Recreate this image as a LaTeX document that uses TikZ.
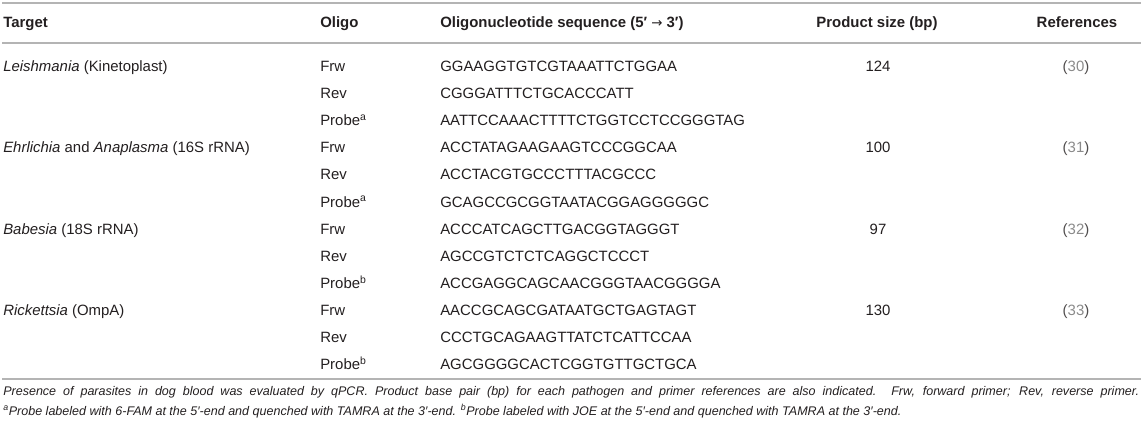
\documentclass[tikz,border=0pt]{standalone}
\usepackage{fontspec}
\setmainfont{Liberation Sans}
\newfontfamily\arrowfont{DejaVu Sans}
\usetikzlibrary{positioning}
\definecolor{ink}{HTML}{231F20}
\definecolor{rulegrey}{HTML}{B4B4B4}
\definecolor{refgrey}{HTML}{8A8A8A}
\begin{document}
\begin{tikzpicture}
[x=0.75pt,y=-0.75pt,
 cell/.style={inner sep=0pt,text=ink,font=\fontsize{11.2}{13}\selectfont},
 head/.style={cell,font=\fontsize{11.2}{13}\selectfont\bfseries},
 rule/.style={draw=rulegrey,line width=1.1pt},
 note/.style={anchor=north west,inner sep=0pt,text=ink,text width=852pt,align=justify,
   font=\fontsize{9.4}{15}\selectfont\itshape}]
\useasboundingbox (0,0) rectangle (1143,426);
\newcommand\refno[1]{{\color{ink!80}(}{\color{refgrey}#1}{\color{ink!80})}}

\coordinate (L1) at (2,3);
\coordinate (R1) at (1141,3);
\coordinate (L2) at (2,43);
\coordinate (R2) at (1141,43);
\coordinate (L3) at (2,379);
\coordinate (R3) at (1141,379);
\draw[rule] (L1) -- (R1);
\draw[rule] (L2) -- (R2);
\draw[rule] (L3) -- (R3);

\node[head,anchor=base west] (hT) at (3,27) {Target};
\node[head,anchor=base west] (hO) at (320,27) {Oligo};
\node[head,anchor=base west] (hS) at (440,27) {Oligonucleotide sequence (5′ {\arrowfont\mdseries\fontsize{10}{10}\selectfont →} 3′)};
\node[head,anchor=base] (hP) at (877,27) {Product size (bp)};
\node[head,anchor=base] (hR) at (1077,27) {References};

\foreach \i/\o/\s in {0/Frw/GGAAGGTGTCGTAAATTCTGGAA,
  1/Rev/CGGGATTTCTGCACCCATT,
  2/Probe\textsuperscript{a}/AATTCCAAACTTTTCTGGTCCTCCGGGTAG,
  3/Frw/ACCTATAGAAGAAGTCCCGGCAA,
  4/Rev/ACCTACGTGCCCTTTACGCCC,
  5/Probe\textsuperscript{a}/GCAGCCGCGGTAATACGGAGGGGGC,
  6/Frw/ACCCATCAGCTTGACGGTAGGGT,
  7/Rev/AGCCGTCTCTCAGGCTCCCT,
  8/Probe\textsuperscript{b}/ACCGAGGCAGCAACGGGTAACGGGGA,
  9/Frw/AACCGCAGCGATAATGCTGAGTAGT,
  10/Rev/CCCTGCAGAAGTTATCTCATTCCAA,
  11/Probe\textsuperscript{b}/AGCGGGGCACTCGGTGTTGCTGCA}
{
  \node[cell,anchor=base west] (o\i) at (320,71.5+27.1*\i) {\o};
  \node[cell,anchor=base west] (s\i) at (440,71.5+27.1*\i) {\s};
}

\foreach \g/\t/\p/\r in {0/\textit{Leishmania} (Kinetoplast)/124/30,
  3/\textit{Ehrlichia} and \textit{Anaplasma} (16S rRNA)/100/31,
  6/\textit{Babesia} (18S rRNA)/97/32,
  9/\textit{Rickettsia} (OmpA)/130/33}
{
  \node[cell,anchor=base west] (t\g) at (3,71.5+27.1*\g) {\t};
  \node[cell,anchor=base] (p\g) at (878,71.5+27.1*\g) {\p};
  \node[cell,anchor=base] (r\g) at (1076,71.5+27.1*\g) {\refno{\r}};
}

\node[note] (n1) at (3,386) {Presence of parasites in dog blood was evaluated by qPCR. Product base pair (bp) for each pathogen and primer references are also indicated. Frw, forward primer; Rev, reverse primer.\linebreak
\textsuperscript{a}Probe labeled with 6-FAM at the 5′-end and quenched with TAMRA at the 3′-end. \textsuperscript{b}Probe labeled with JOE at the 5′-end and quenched with TAMRA at the 3′-end.};

\end{tikzpicture}
\end{document}
